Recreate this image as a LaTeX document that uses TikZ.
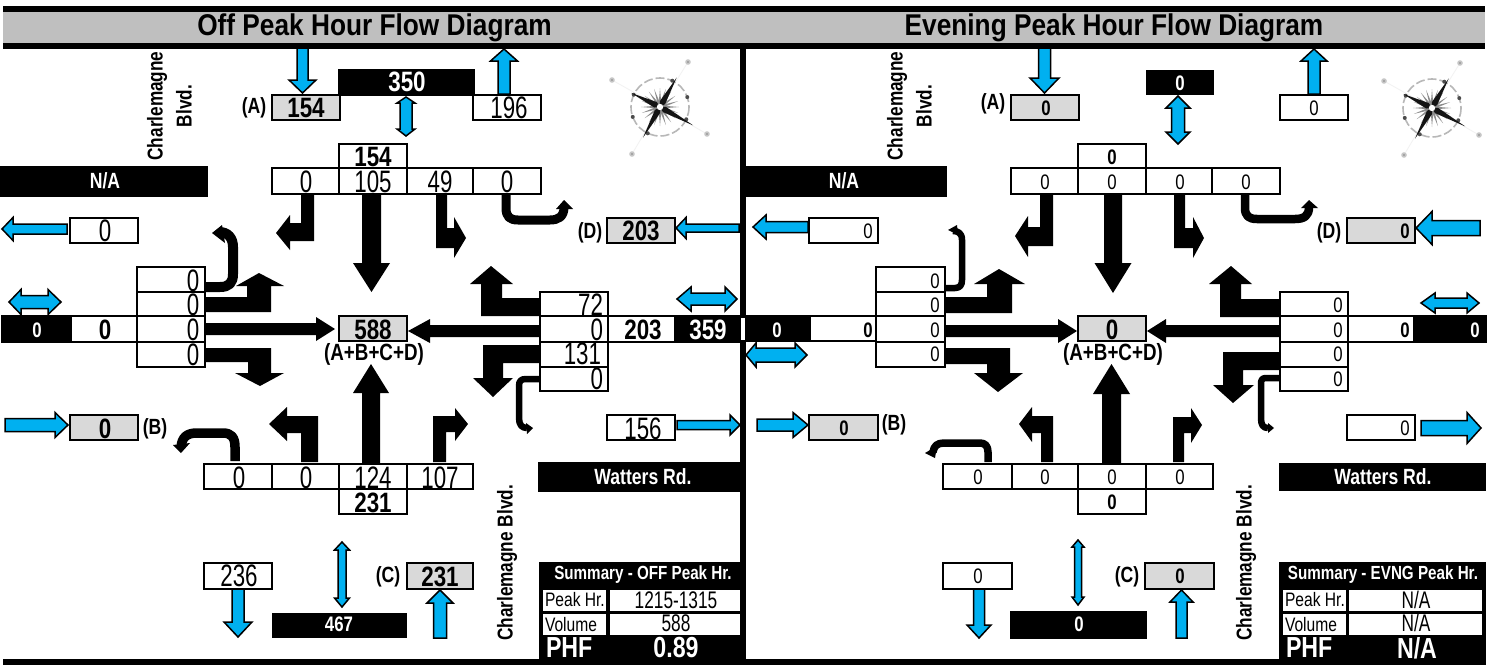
\documentclass[tikz,border=0pt]{standalone}
\usepackage{fontspec}
\setmainfont{Liberation Sans}
\newfontfamily\nr[FakeStretch=0.8]{Liberation Sans}
\newfontfamily\nn[FakeStretch=0.72]{Liberation Sans}
\newfontfamily\tl[FakeStretch=0.875]{Liberation Sans}
\newcommand\fz[1]{\fontsize{#1}{#1}\selectfont}
\definecolor{skyb}{HTML}{00B0F0}
\definecolor{cellg}{HTML}{D9D9D9}
\definecolor{barg}{HTML}{BFBFBF}
\tikzset{
 boxc/.style={draw=black,line width=2.6pt,rectangle,inner sep=0pt,outer sep=0pt,fill=white},
 grayc/.style={boxc,fill=cellg},
 darkc/.style={rectangle,inner sep=0pt,outer sep=0pt,fill=black},
 whitec/.style={rectangle,inner sep=0pt,outer sep=0pt,fill=white},
 lab/.style={inner sep=0pt,outer sep=0pt},
 nA/.style={font=\nn\fz{31}},
 bA/.style={font=\nr\bfseries\fz{28}},
 nB/.style={font=\nr\fz{21}},
 bB/.style={font=\nr\bfseries\fz{21}},
 wB/.style={font=\nr\bfseries\fz{21},text=white},
 wA/.style={font=\nr\bfseries\fz{28},text=white},
 lbl/.style={font=\nr\bfseries\fz{22}},
 lbs/.style={font=\nr\bfseries\fz{23.5}},
 sum/.style={font=\nr\bfseries\fz{19},text=white},
 wL/.style={font=\nr\bfseries\fz{22},text=white},
 sml/.style={font=\nr\fz{19.5}},
 val/.style={font=\nn\fz{24}},
 big/.style={font=\nr\bfseries\fz{29},text=white},
 ttl/.style={font=\tl\bfseries\fz{30}},
 road/.style={font=\nr\bfseries\fz{21.5},rotate=90},
 blu/.style={fill=skyb,draw=black,line width=1.5pt,line join=miter},
 blk/.style={fill=black},
 turn/.style={draw=black,line cap=butt,line join=round},
}
% box: name x1 y1 x2 y2 style
\newcommand\bx[6]{\node[#6,minimum width={(#4-#2)*1pt},minimum height={(#5-#3)*1pt}] (#1) at ({(#2+#4)/2},{(#3+#5)/2}) {};}
% text: name x y style text
\newcommand\tx[5]{\node[lab,#4] (#1) at (#2,#3) {#5};}
% horizontal arrow: style start base tip yc shaft-half head-half
\newcommand\hAr[7]{\path[#1] (#2,{#5-#6}) -- (#3,{#5-#6}) -- (#3,{#5-#7}) -- (#4,#5) -- (#3,{#5+#7}) -- (#3,{#5+#6}) -- (#2,{#5+#6}) -- cycle;}
\newcommand\vAr[7]{\path[#1] ({#5-#6},#2) -- ({#5-#6},#3) -- ({#5-#7},#3) -- (#5,#4) -- ({#5+#7},#3) -- ({#5+#6},#3) -- ({#5+#6},#2) -- cycle;}
% double arrows: tip1 base1 base2 tip2 centre shaft-half head-half
\newcommand\hDb[7]{\path[blu] (#1,#5) -- (#2,{#5-#7}) -- (#2,{#5-#6}) -- (#3,{#5-#6}) -- (#3,{#5-#7}) -- (#4,#5) -- (#3,{#5+#7}) -- (#3,{#5+#6}) -- (#2,{#5+#6}) -- (#2,{#5+#7}) -- cycle;}
\newcommand\vDb[7]{\path[blu] (#5,#1) -- ({#5-#7},#2) -- ({#5-#6},#2) -- ({#5-#6},#3) -- ({#5-#7},#3) -- (#5,#4) -- ({#5+#7},#3) -- ({#5+#6},#3) -- ({#5+#6},#2) -- ({#5+#7},#2) -- cycle;}
\newcommand\compass[2]{\begin{scope}[shift={(#1,#2)}]
 \foreach \dx/\dy in {28/-45,-48/-27,47/27,-28/47}{
   \draw[black!5,line width=0.8pt] (0,0) -- (\dx,\dy);
   \fill[black!22] (\dx,\dy) circle (2.8);
   \fill[black!40] (\dx,\dy) circle (1.2);}
 \draw[black!28,line width=1.6pt,dash pattern=on 9pt off 3pt] (0,0) circle (29);
 \foreach \a in {25,115,205,295,160,340}{\fill[black!70] (\a:29) circle (2);}
 \foreach \a in {0,18,...,342}{\fill[black!45,rotate=\a] (0,-1.6) -- (19,0) -- (0,1.6) -- cycle;}
 \foreach \a/\l in {60.5/34,241/35,154/32,331/38}{
   \fill[black!92,rotate=\a] (\l,0) -- (5,3) -- (0,0) -- (5,-3) -- cycle;}
 \fill[white] (0,0) circle (3.2);
\end{scope}}
\begin{document}
\begin{tikzpicture}[x=1pt,y=-1pt]
\useasboundingbox (0,0) rectangle (1497,667);
\fill[white] (0,0) rectangle (1497,667);
% frame
\bx{topbar}{3}{6}{1485}{12}{darkc}
\bx{titlebar}{3}{12}{1485}{43}{rectangle,fill=barg,inner sep=0pt,outer sep=0pt}
\bx{underbar}{3}{43}{1485}{49}{darkc}
\bx{botbar}{3}{659}{1486}{665}{darkc}
\bx{midbar}{740}{49}{746}{659}{darkc}
\bx{midgap}{740}{318}{746}{340}{whitec}
\tx{t1}{374.5}{28}{ttl}{Off Peak Hour Flow Diagram}
\tx{t2}{1114}{28}{ttl}{Evening Peak Hour Flow Diagram}

%%%%%%%%%% LEFT PANEL
% blue arrows
\vAr{blu}{48}{80}{93}{302.5}{5.5}{13.5}
\vAr{blu}{94}{61}{49}{504}{6}{13.5}
\vDb{97}{103}{129}{136}{406}{6}{9}
\hAr{blu}{67}{13}{2}{229}{5}{11.5}
\hDb{9}{21}{48}{61}{302}{6.5}{12.5}
\hAr{blu}{739}{686}{676}{228}{4}{10.5}
\hDb{677}{691}{725}{737}{299}{6}{12}
\hAr{blu}{5}{55}{68}{425}{6.5}{12.5}
\hAr{blu}{677}{730}{740}{425}{4.5}{10}
\vAr{blu}{587}{622}{637}{238}{6}{14}
\vAr{blu}{638}{603}{590}{440}{6.5}{13}
\vDb{542}{550}{598}{607}{342}{4}{7.5}
% black straight arrows
\vAr{blk}{194}{263}{292}{371.5}{9.5}{18.5}
\hAr{blk}{540}{430}{408}{331}{6}{12}
\vAr{blk}{463}{393}{364}{371}{9}{18}
\hAr{blk}{205}{316}{335}{329}{6}{12}
% bent arrows
\fill[blk] (301,194) -- (314,194) -- (314,241) -- (290,241) -- (290,250) -- (276,233) -- (290,215) -- (290,223) -- (301,223) -- cycle;
\fill[blk] (436,194) -- (447,194) -- (447,228) -- (454,228) -- (454,217) -- (466,238) -- (454,258) -- (454,248) -- (436,248) -- cycle;
\fill[blk] (540,298) -- (502,298) -- (502,284) -- (513,284) -- (491,266) -- (470,284) -- (481,284) -- (481,316) -- (540,316) -- cycle;
\fill[blk] (540,345) -- (483,345) -- (483,378) -- (473,378) -- (493,397) -- (513,378) -- (503,378) -- (503,363) -- (540,363) -- cycle;
\fill[blk] (301,462) -- (318,462) -- (318,416) -- (287,416) -- (287,407) -- (269,424) -- (287,441) -- (287,433) -- (301,433) -- cycle;
\fill[blk] (433,462) -- (446,462) -- (446,432) -- (455,432) -- (455,441) -- (468,424) -- (455,408) -- (455,416) -- (433,416) -- cycle;
\fill[blk] (205,297) -- (247,297) -- (247,286) -- (236,286) -- (259,273) -- (284,286) -- (271,286) -- (271,312) -- (205,312) -- cycle;
\fill[blk] (205,348) -- (271,348) -- (271,373) -- (284,373) -- (260,386) -- (235,373) -- (248,373) -- (248,362) -- (205,362) -- cycle;
% U-turns
\draw[turn,line width=9pt] (506,194) -- (506,208) .. controls (506,217) and (510,220) .. (518,220) -- (550,220) .. controls (558,220) and (564,217) .. (564,207);
\fill[blk] (556,209) -- (564,200) -- (573,209) -- cycle;
\draw[turn,line width=6.5pt] (540,379) -- (526,379) .. controls (521,379) and (519,381) .. (519,386) -- (519,418) .. controls (519,425) and (522,428) .. (527,428);
\fill[blk] (526,423) -- (533,428) -- (527,434) -- cycle;
\draw[turn,line width=9.5pt] (235,461) -- (235,447) .. controls (235,437) and (231,433) .. (223,433) -- (197,433) .. controls (187,433) and (182,437) .. (181,447);
\fill[blk] (173,445) -- (190,443) -- (181,453) -- cycle;
\draw[turn,line width=10pt] (205,287) -- (220,287) .. controls (229,287) and (233,283) .. (233,274) -- (233,247) .. controls (233,238) and (228,232) .. (219,232);
\fill[blk] (212,233) -- (222,225) -- (225,243) -- cycle;
% black label boxes
\bx{o350}{338}{69}{475}{96}{darkc}
\bx{onaW}{0}{166}{208}{197}{darkc}
\bx{owat}{538}{462}{741}{492}{darkc}
\bx{o467}{272}{613}{407}{638}{darkc}
% cells
\bx{oA}{272}{95}{340}{120}{grayc}
\bx{oAo}{473}{95}{541}{120}{boxc}
\bx{oNt}{339}{144}{407}{168}{boxc}
\bx{oN1}{272}{168}{339}{194}{boxc}
\bx{oN2}{339}{168}{407}{194}{boxc}
\bx{oN3}{407}{168}{473}{194}{boxc}
\bx{oN4}{473}{168}{541}{194}{boxc}
\bx{oWo}{70}{218}{138}{243}{boxc}
\bx{oD}{607}{218}{675}{243}{grayc}
\bx{oW1}{137}{267}{205}{292}{boxc}
\bx{oW2}{137}{292}{205}{316}{boxc}
\bx{oWr}{2}{316}{137}{342}{boxc}
\bx{oWb}{2}{317}{72}{341}{darkc}
\bx{oW3}{137}{316}{205}{342}{boxc}
\bx{oW4}{137}{342}{205}{367}{boxc}
\bx{oC}{339}{316}{407}{341}{grayc}
\bx{oE1}{540}{292}{608}{316}{boxc}
\bx{oEr}{608}{316}{740}{342}{boxc}
\bx{oEb}{674}{317}{740}{341}{darkc}
\bx{oE2}{540}{316}{608}{342}{boxc}
\bx{oE3}{540}{342}{608}{367}{boxc}
\bx{oE4}{540}{367}{608}{391}{boxc}
\bx{oB}{70}{415}{138}{440}{grayc}
\bx{oEo}{607}{415}{675}{440}{boxc}
\bx{oS1}{204}{464}{272}{489}{boxc}
\bx{oS2}{272}{464}{339}{489}{boxc}
\bx{oS3}{339}{464}{407}{489}{boxc}
\bx{oS4}{407}{464}{473}{489}{boxc}
\bx{oSt}{339}{489}{407}{514}{boxc}
\bx{oSo}{204}{563}{272}{589}{boxc}
\bx{oCi}{407}{563}{473}{589}{grayc}
% summary
\bx{oSm}{539}{562}{741}{659}{darkc}
\bx{oP1}{543}{590}{606}{611}{whitec}
\bx{oP2}{610}{590}{740}{611}{whitec}
\bx{oV1}{543}{614}{606}{635}{whitec}
\bx{oV2}{610}{614}{740}{635}{whitec}
% texts
\tx{oTa}{306}{108}{bA}{154}
\tx{oTla}{254}{108}{lbl}{(A)}
\tx{oT350}{407}{82}{wA}{350}
\tx{oT196}{509}{108}{nA}{196}
\tx{oTn}{373}{157}{bA}{154}
\tx{oTn1}{306}{182}{nA}{0}
\tx{oTn2}{373}{182}{nA}{105}
\tx{oTn3}{440}{182}{nA}{49}
\tx{oTn4}{507}{182}{nA}{0}
\tx{oTna}{105}{181}{wL}{N/A}
\tx{oTwo}{105}{231}{nA}{0}
\tx{oTd}{641}{231}{bA}{203}
\tx{oTld}{590}{233}{lbl}{(D)}
\tx{oTw1}{193}{281}{nA}{0}
\tx{oTw2}{193}{305}{nA}{0}
\tx{oTw3}{193}{330}{nA}{0}
\tx{oTw4}{193}{355}{nA}{0}
\tx{oTwb}{37}{330}{wB}{0}
\tx{oTww}{105}{330}{bA}{0}
\tx{oTc}{373}{330}{bA}{588}
\tx{oTsum}{374}{354}{lbs}{(A+B+C+D)}
\tx{oTe1}{603}{305}{nA,anchor=east}{72}
\tx{oTe2}{603}{330}{nA,anchor=east}{0}
\tx{oTe3}{601}{354}{nA,anchor=east}{131}
\tx{oTe4}{603}{379}{nA,anchor=east}{0}
\tx{oTer}{643}{330}{bA}{203}
\tx{oTeb}{708}{330}{wA}{359}
\tx{oTb}{105}{429}{bA}{0}
\tx{oTlb}{155}{429}{lbl}{(B)}
\tx{oTeo}{643}{429}{nA}{156}
\tx{oTs1}{239}{478}{nA}{0}
\tx{oTs2}{306}{478}{nA}{0}
\tx{oTs3}{373}{478}{nA}{124}
\tx{oTs4}{440}{478}{nA}{107}
\tx{oTst}{373}{503}{bA}{231}
\tx{oTso}{239}{576}{nA}{236}
\tx{oTci}{440}{577}{bA}{231}
\tx{oTlc}{388}{577}{lbl}{(C)}
\tx{oT467}{339}{624}{wB}{467}
\tx{oTwat}{643}{477}{wL}{Watters Rd.}
\tx{oCh1}{157}{106}{road}{Charlemagne}
\tx{oCh2}{184}{106}{road}{Blvd.}
\tx{oCh3}{507}{563}{road}{Charlemagne Blvd.}
\tx{oTsm}{643}{575}{sum}{Summary - OFF Peak Hr.}
\tx{oTp}{545}{600}{sml,anchor=west}{Peak Hr.}
\tx{oTpv}{676}{600}{val}{1215-1315}
\tx{oTv}{545}{625}{sml,anchor=west}{Volume}
\tx{oTvv}{676}{623}{val}{588}
\tx{oTphf}{546}{648}{big,anchor=west}{PHF}
\tx{oTphv}{676}{648}{big}{0.89}
\compass{660}{107}

%%%%%%%%%% RIGHT PANEL
\vAr{blu}{48}{78}{93}{1044.5}{6}{14.5}
\vAr{blu}{94}{61}{49}{1314}{6}{13}
\vDb{96}{108}{132}{144}{1178}{6.5}{12}
\hAr{blu}{808}{766}{753}{227}{5.5}{12}
\hAr{blu}{1480}{1432}{1416}{228}{7.5}{16.5}
\hDb{1421}{1435}{1467}{1479}{303}{5}{10}
\hDb{746}{756}{795}{807}{355}{7}{12}
\hAr{blu}{757}{793}{808}{425}{6}{12.5}
\hAr{blu}{1421}{1467}{1481}{428}{7.5}{15.5}
\vAr{blu}{587}{625}{638}{979}{5.5}{12}
\vAr{blu}{638}{602}{590}{1181.5}{5.5}{11.5}
\vDb{540}{547}{597}{605}{1078}{3.5}{6}
\vAr{blk}{194}{263}{293}{1113}{9}{18.5}
\hAr{blk}{945}{1058}{1077}{331}{6}{12}
\vAr{blk}{463}{394}{364}{1111.5}{9.5}{18.5}
\hAr{blk}{1280}{1166}{1147}{331}{6}{12}
\fill[blk] (1040,194) -- (1053,194) -- (1053,246) -- (1028,246) -- (1028,257) -- (1015,236) -- (1028,216) -- (1028,227) -- (1040,227) -- cycle;
\fill[blk] (1174,194) -- (1185,194) -- (1185,228) -- (1193,228) -- (1193,217) -- (1204,238) -- (1193,258) -- (1193,248) -- (1174,248) -- cycle;
\fill[blk] (945,297) -- (987,297) -- (987,284) -- (974,284) -- (999,269) -- (1025,284) -- (1012,284) -- (1012,313) -- (945,313) -- cycle;
\fill[blk] (945,348) -- (1010,348) -- (1010,373) -- (1023,373) -- (998,392) -- (974,373) -- (987,373) -- (987,364) -- (945,364) -- cycle;
\fill[blk] (1041,462) -- (1053,462) -- (1053,416) -- (1032,416) -- (1032,407) -- (1019,424) -- (1032,442) -- (1032,433) -- (1041,433) -- cycle;
\fill[blk] (1173,462) -- (1184,462) -- (1184,433) -- (1191,433) -- (1191,443) -- (1202,425) -- (1191,408) -- (1191,417) -- (1173,417) -- cycle;
\fill[blk] (1280,299) -- (1241,299) -- (1241,284) -- (1252,284) -- (1231,266) -- (1209,284) -- (1220,284) -- (1220,317) -- (1280,317) -- cycle;
\fill[blk] (1280,352) -- (1223,352) -- (1223,385) -- (1213,385) -- (1233,403) -- (1254,385) -- (1243,385) -- (1243,370) -- (1280,370) -- cycle;
\draw[turn,line width=8.5pt] (1245,194) -- (1245,208) .. controls (1245,216) and (1249,219) .. (1257,219) -- (1295,219) .. controls (1304,219) and (1309,216) .. (1309,207);
\fill[blk] (1301,208) -- (1309,200) -- (1318,208) -- cycle;
\draw[turn,line width=6.5pt] (1280,378) -- (1266,378) .. controls (1262,378) and (1261,380) .. (1261,384) -- (1261,418) .. controls (1261,425) and (1263,428) .. (1268,428);
\fill[blk] (1268,423) -- (1274,428) -- (1268,433) -- cycle;
\draw[turn,line width=7.5pt] (988,462) -- (988,452) .. controls (988,446) and (985,443) .. (980,443) -- (944,443) .. controls (937,443) and (934,446) .. (933,452);
\fill[blk] (925,453) -- (937,446) -- (935,458) -- cycle;
\draw[turn,line width=6.5pt] (945,288) -- (955,288) .. controls (960,288) and (962,285) .. (962,280) -- (962,240) .. controls (962,233) and (958,231) .. (953,231);
\fill[blk] (948,230) -- (957,225) -- (958,235) -- cycle;
% black label boxes
\bx{e0}{1146}{70}{1214}{95}{darkc}
\bx{enaW}{746}{166}{947}{197}{darkc}
\bx{ewat}{1279}{463}{1486}{491}{darkc}
\bx{e467}{1010}{611}{1147}{639}{darkc}
% cells
\bx{eA}{1011}{95}{1079}{120}{grayc}
\bx{eAo}{1280}{95}{1348}{120}{boxc}
\bx{eNt}{1078}{144}{1146}{168}{boxc}
\bx{eN1}{1011}{168}{1078}{194}{boxc}
\bx{eN2}{1078}{168}{1146}{194}{boxc}
\bx{eN3}{1146}{168}{1212}{194}{boxc}
\bx{eN4}{1212}{168}{1280}{194}{boxc}
\bx{eWo}{809}{218}{878}{243}{boxc}
\bx{eD}{1347}{218}{1415}{243}{grayc}
\bx{eW1}{876}{267}{945}{292}{boxc}
\bx{eW2}{876}{292}{945}{316}{boxc}
\bx{eWr}{746}{316}{876}{341}{boxc}
\bx{eWb}{746}{317}{811}{341}{darkc}
\bx{eW3}{876}{316}{945}{342}{boxc}
\bx{eW4}{876}{342}{945}{367}{boxc}
\bx{eC}{1078}{316}{1146}{341}{grayc}
\bx{eE1}{1280}{292}{1348}{316}{boxc}
\bx{eEr}{1348}{316}{1486}{342}{boxc}
\bx{eEb}{1413}{317}{1486}{341}{darkc}
\bx{eE2}{1280}{316}{1348}{342}{boxc}
\bx{eE3}{1280}{342}{1348}{367}{boxc}
\bx{eE4}{1280}{367}{1348}{391}{boxc}
\bx{eB}{809}{415}{878}{440}{grayc}
\bx{eEo}{1347}{415}{1415}{440}{boxc}
\bx{eS1}{943}{464}{1012}{489}{boxc}
\bx{eS2}{1012}{464}{1078}{489}{boxc}
\bx{eS3}{1078}{464}{1146}{489}{boxc}
\bx{eS4}{1146}{464}{1213}{489}{boxc}
\bx{eSt}{1078}{489}{1146}{514}{boxc}
\bx{eSo}{943}{563}{1012}{589}{boxc}
\bx{eCi}{1145}{563}{1214}{589}{grayc}
% summary
\bx{eSm}{1279}{562}{1486}{659}{darkc}
\bx{eP1}{1283}{590}{1346}{611}{whitec}
\bx{eP2}{1349}{590}{1482}{611}{whitec}
\bx{eV1}{1283}{614}{1346}{635}{whitec}
\bx{eV2}{1349}{614}{1482}{635}{whitec}
% texts
\tx{eTa}{1046}{108}{bB}{0}
\tx{eTla}{993}{104}{lbl}{(A)}
\tx{eT0}{1180}{83}{wB}{0}
\tx{eTao}{1314}{108}{nB}{0}
\tx{eTn}{1112}{157}{bB}{0}
\tx{eTn1}{1045}{182}{nB}{0}
\tx{eTn2}{1112}{182}{nB}{0}
\tx{eTn3}{1180}{182}{nB}{0}
\tx{eTn4}{1246}{182}{nB}{0}
\tx{eTna}{844}{181}{wL}{N/A}
\tx{eTwo}{868}{231}{nB}{0}
\tx{eTd}{1405}{231}{bB}{0}
\tx{eTld}{1329}{233}{lbl}{(D)}
\tx{eTw1}{935}{281}{nB}{0}
\tx{eTw2}{935}{305}{nB}{0}
\tx{eTw3}{935}{330}{nB}{0}
\tx{eTw4}{935}{354}{nB}{0}
\tx{eTwb}{777}{330}{wB}{0}
\tx{eTww}{868}{330}{bB}{0}
\tx{eTc}{1112}{330}{bA}{0}
\tx{eTsum}{1113}{354}{lbs}{(A+B+C+D)}
\tx{eTe1}{1338}{305}{nB}{0}
\tx{eTe2}{1338}{330}{nB}{0}
\tx{eTe3}{1338}{354}{nB}{0}
\tx{eTe4}{1338}{379}{nB}{0}
\tx{eTer}{1405}{330}{bB}{0}
\tx{eTeb}{1475}{330}{wB}{0}
\tx{eTb}{844}{428}{bB}{0}
\tx{eTlb}{894}{425}{lbl}{(B)}
\tx{eTeo}{1405}{428}{nB}{0}
\tx{eTs1}{978}{477}{nB}{0}
\tx{eTs2}{1045}{477}{nB}{0}
\tx{eTs3}{1112}{477}{nB}{0}
\tx{eTs4}{1180}{477}{nB}{0}
\tx{eTst}{1112}{502}{bB}{0}
\tx{eTso}{978}{576}{nB}{0}
\tx{eTci}{1180}{576}{bB}{0}
\tx{eTlc}{1127}{577}{lbl}{(C)}
\tx{eT467}{1079}{624}{wB}{0}
\tx{eTwat}{1383}{477}{wL}{Watters Rd.}
\tx{eCh1}{897}{106}{road}{Charlemagne}
\tx{eCh2}{924}{106}{road}{Blvd.}
\tx{eCh3}{1246}{563}{road}{Charlemagne Blvd.}
\tx{eTsm}{1383}{575}{sum}{Summary - EVNG Peak Hr.}
\tx{eTp}{1285}{600}{sml,anchor=west}{Peak Hr.}
\tx{eTpv}{1416}{600}{val}{N/A}
\tx{eTv}{1285}{625}{sml,anchor=west}{Volume}
\tx{eTvv}{1416}{623}{val}{N/A}
\tx{eTphf}{1286}{648}{big,anchor=west}{PHF}
\tx{eTphv}{1417}{648}{big}{N/A}
\compass{1432}{108}
\end{tikzpicture}
\end{document}
